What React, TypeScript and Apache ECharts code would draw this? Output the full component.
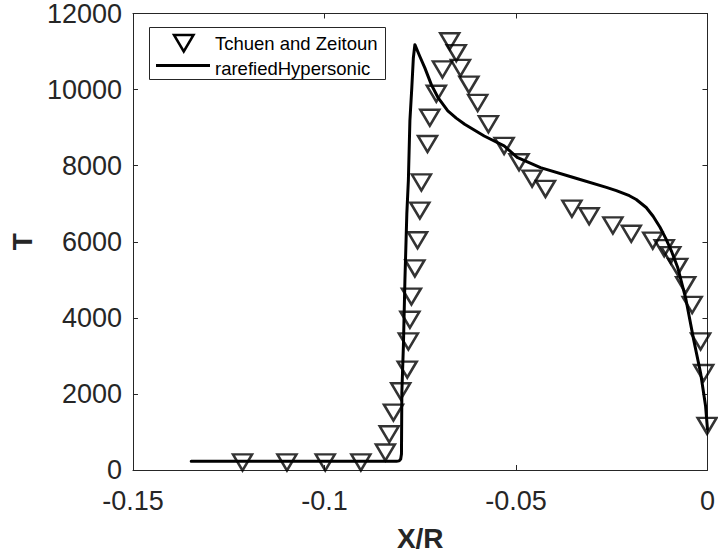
import React, { useEffect, useRef } from 'react';
import * as echarts from 'echarts';

const seriesNames = ['Tchuen and Zeitoun', 'rarefiedHypersonic'];

const tchuenX = [
  -0.1214, -0.1098, -0.0998, -0.0905, -0.0841, -0.0831, -0.082, -0.0801, -0.0784, -0.0781,
  -0.0777, -0.0773, -0.0764, -0.0757, -0.0751, -0.0747, -0.0731, -0.0725, -0.0708, -0.0692,
  -0.0673, -0.0656, -0.0645, -0.0623, -0.06, -0.0572, -0.0531, -0.0492, -0.0458, -0.0423,
  -0.0354, -0.0309, -0.0247, -0.0199, -0.0143, -0.0113, -0.0096, -0.0078, -0.0057, -0.004,
  -0.0018, -0.001, -0.0001,
];
const tchuenT = [
  200, 200, 200, 200, 460, 940, 1510, 2070, 2640, 3380,
  3950, 4560, 5300, 6040, 6820, 7560, 8570, 9260, 9890, 10530,
  11270, 10960, 10570, 10130, 9650, 9090, 8520, 8090, 7660, 7390,
  6870, 6670, 6430, 6210, 6030, 5830, 5650, 5340, 4860, 4340,
  3380, 2550, 1160,
];

const rhX = [
  -0.1348, -0.0812, -0.0805, -0.0801, -0.0799, -0.0798, -0.0794, -0.079, -0.0785, -0.0781,
  -0.0777, -0.0772, -0.0768, -0.0764, -0.0751, -0.0738, -0.0721, -0.0703, -0.0678, -0.0656,
  -0.0634, -0.0583, -0.0531, -0.0497, -0.0436, -0.035, -0.0264, -0.0238, -0.0204, -0.0186,
  -0.016, -0.0142, -0.0124, -0.0109, -0.0093, -0.0078, -0.0057, -0.0036, -0.0018, -0.0005,
  0,
];
const rhT = [
  230, 230, 240, 290, 420, 2040, 3250, 4990, 6740, 7610,
  9180, 10050, 10830, 11180, 10870, 10570, 10130, 9780, 9440, 9250,
  9090, 8780, 8520, 8220, 7950, 7690, 7430, 7345, 7210, 7110,
  6900, 6670, 6380, 6090, 5725, 5330, 4520, 3420, 2550, 1680,
  1070,
];

const FONT = 'Liberation Sans, Arial, Helvetica, sans-serif';
const AXIS_COLOR = '#262626';

export default function App() {
  const ref = useRef<HTMLDivElement>(null);
  useEffect(() => {
    document.body.style.margin = '0';
    const chart = echarts.init(ref.current as HTMLDivElement, null, { renderer: 'svg' });
    const axisLine = { show: true, onZero: false, lineStyle: { color: AXIS_COLOR, width: 1 } };
    const axisTick = { show: true, inside: true, length: 5, lineStyle: { color: AXIS_COLOR, width: 1 } };
    chart.setOption({
      animation: false,
      backgroundColor: '#ffffff',
      textStyle: { fontFamily: FONT },
      grid: { left: 132, top: 12, width: 580, height: 459, containLabel: false },
      graphic: [
        {
          type: 'group',
          z: 100,
          children: [
            {
              type: 'rect',
              shape: { x: 149.5, y: 27.5, width: 236, height: 52 },
              style: { fill: '#ffffff', stroke: AXIS_COLOR, lineWidth: 1 },
            },
            {
              type: 'polygon',
              shape: { points: [[174, 35], [193.5, 35], [183.75, 51.5]] },
              style: { fill: 'rgba(255,255,255,0)', stroke: '#000', lineWidth: 2.5 },
            },
            {
              type: 'line',
              shape: { x1: 156, y1: 65.5, x2: 210, y2: 65.5 },
              style: { stroke: '#000', lineWidth: 3 },
            },
            {
              type: 'text',
              x: 215,
              y: 43.5,
              style: {
                text: seriesNames[0], fontSize: 18.5, fontFamily: FONT, fill: '#000',
                textVerticalAlign: 'middle', verticalAlign: 'middle',
              },
            },
            {
              type: 'text',
              x: 215,
              y: 68,
              style: {
                text: seriesNames[1], fontSize: 18.5, fontFamily: FONT, fill: '#000',
                textVerticalAlign: 'middle', verticalAlign: 'middle',
              },
            },
          ],
        },
      ],
      xAxis: [
        {
          type: 'value', min: -0.15, max: 0, interval: 0.05, position: 'bottom',
          axisLine, axisTick,
          axisLabel: { fontSize: 27, color: AXIS_COLOR, margin: 17, fontFamily: FONT },
          splitLine: { show: false },
          name: 'X/R', nameLocation: 'middle', nameGap: 54,
          nameTextStyle: { fontSize: 28, fontWeight: 'bold', color: AXIS_COLOR, fontFamily: FONT },
        },
        {
          type: 'value', min: -0.15, max: 0, interval: 0.05, position: 'top',
          axisLine, axisTick, axisLabel: { show: false }, splitLine: { show: false },
        },
      ],
      yAxis: [
        {
          type: 'value', min: 0, max: 12000, interval: 2000, position: 'left',
          axisLine, axisTick,
          axisLabel: {
            fontSize: 27, color: AXIS_COLOR, margin: 11, fontFamily: FONT,
            formatter: (v: number) => String(v),
          },
          splitLine: { show: false },
          name: 'T', nameLocation: 'middle', nameGap: 96,
          nameTextStyle: { fontSize: 28, fontWeight: 'bold', color: AXIS_COLOR, fontFamily: FONT },
        },
        {
          type: 'value', min: 0, max: 12000, interval: 2000, position: 'right',
          axisLine, axisTick, axisLabel: { show: false }, splitLine: { show: false },
        },
      ],
      series: [
        {
          name: seriesNames[0],
          type: 'scatter',
          symbol: 'triangle',
          symbolRotate: 180,
          symbolSize: [19, 16],
          itemStyle: { color: 'rgba(255,255,255,0)', borderColor: '#000', borderWidth: 2.5 },
          data: tchuenX.map((x, i) => [x, tchuenT[i]]),
        },
        {
          name: seriesNames[1],
          type: 'line',
          symbol: 'none',
          showSymbol: false,
          lineStyle: { color: '#000', width: 3, join: 'round', cap: 'round' },
          itemStyle: { color: '#000' },
          data: rhX.map((x, i) => [x, rhT[i]]),
        },
      ],
    });
    return () => chart.dispose();
  }, []);
  return <div ref={ref} style={{ width: 718, height: 557 }} />;
}
